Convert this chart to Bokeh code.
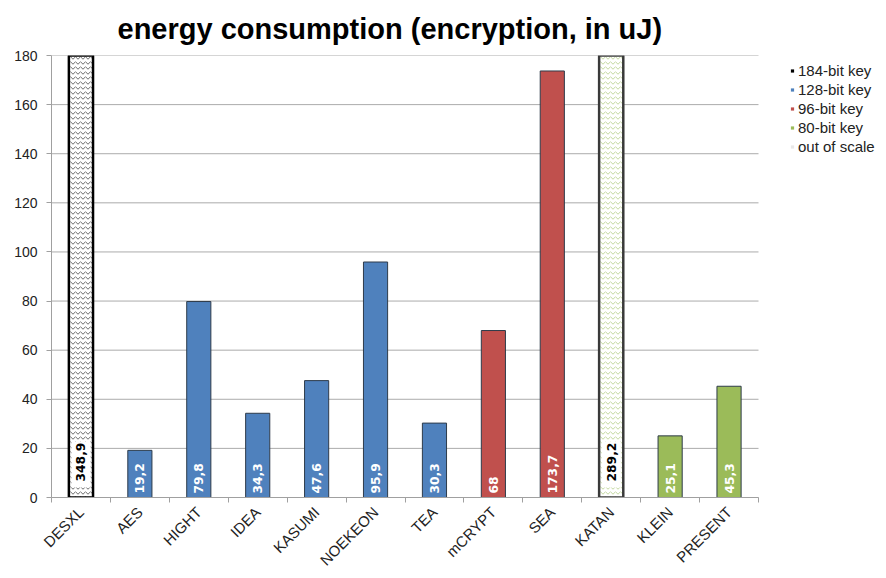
import math
import numpy as np
from bokeh.plotting import figure
from bokeh.models import (ColumnDataSource, Range1d, FixedTicker, Legend, LegendItem)
from bokeh.core.properties import value
from bokeh.embed import file_html
from bokeh.resources import INLINE

# --- data -------------------------------------------------------------
ciphers = ["DESXL", "AES", "HIGHT", "IDEA", "KASUMI", "NOEKEON",
           "TEA", "mCRYPT", "SEA", "KATAN", "KLEIN", "PRESENT"]
energy_uj = [348.9, 19.2, 79.8, 34.3, 47.6, 95.9, 30.3, 68, 173.7, 289.2, 25.1, 45.3]
key_bits = [184, 128, 128, 128, 128, 128, 128, 96, 96, 80, 80, 80]

y_ticks = [0, 20, 40, 60, 80, 100, 120, 140, 160, 180]
Y_MAX = 180

key_colors = {184: "#000000", 128: "#4f81bd", 96: "#c0504d", 80: "#9bbb59"}
key_names = {184: "184-bit key", 128: "128-bit key", 96: "96-bit key", 80: "80-bit key"}
hatch_colors = {184: "#6a6a6a", 80: "#c2d79e"}
edge_colors = {184: "#000000", 80: "#3a3a3a"}

# --- layout: the frame runs to the right edge, the legend sits in the
# strip beyond the last category; axis and grid stop at the bars
W, H = 886, 578
LEFT, TOP, BOTTOM = 51, 55, 81
BAR_AREA_W = 707
n = len(ciphers)
x_end = n * (W - LEFT) / BAR_AREA_W

# --- derived columns ----------------------------------------------------
xs = np.arange(n) + 0.5
labels = [f"{v:g}".replace(".", ",") for v in energy_uj]
in_scale = [v <= Y_MAX for v in energy_uj]

normal = ColumnDataSource(dict(
    x=[x for x, ok in zip(xs, in_scale) if ok],
    top=[v for v, ok in zip(energy_uj, in_scale) if ok],
    color=[key_colors[k] for k, ok in zip(key_bits, in_scale) if ok],
    label=[t for t, ok in zip(labels, in_scale) if ok],
))
over = ColumnDataSource(dict(
    x=[x for x, ok in zip(xs, in_scale) if not ok],
    top=[v for v, ok in zip(energy_uj, in_scale) if not ok],
    hatch=[hatch_colors[k] for k, ok in zip(key_bits, in_scale) if not ok],
    edge=[edge_colors[k] for k, ok in zip(key_bits, in_scale) if not ok],
    label=[t for t, ok in zip(labels, in_scale) if not ok],
))

# --- figure -------------------------------------------------------------
p = figure(width=W, height=H, output_backend="svg", toolbar_location=None,
           x_range=Range1d(0, x_end), y_range=Range1d(0, Y_MAX),
           min_border_left=LEFT, min_border_right=0,
           min_border_top=TOP, min_border_bottom=BOTTOM)
p.outline_line_color = None
p.background_fill_color = "white"
p.border_fill_color = "white"

p.title.text = "energy consumption (encryption, in uJ)"
p.title.text_font = "Liberation Sans"
p.title.text_font_size = "29px"
p.title.text_font_style = "bold"
p.title.text_color = "#000000"
p.title.align = "left"
p.title.offset = 66
p.title.vertical_align = "middle"
p.title.standoff = 20

# horizontal grid lines, limited to the category area
p.xgrid.visible = False
p.ygrid.visible = False
p.segment(x0=0, x1=n, y0=y_ticks, y1=y_ticks, line_color="#ababab", line_width=1)

# y axis
p.yaxis.ticker = FixedTicker(ticks=y_ticks)
p.yaxis.axis_line_color = "#a0a0a0"
p.yaxis.major_tick_line_color = "#a0a0a0"
p.yaxis.major_tick_in = 0
p.yaxis.major_tick_out = 5
p.yaxis.minor_tick_line_color = None
p.yaxis.major_label_text_font = "Liberation Sans"
p.yaxis.major_label_text_font_size = "14px"
p.yaxis.major_label_text_color = "#222222"
p.yaxis.major_label_standoff = 9

# x axis: names at bar centres, tick marks between categories
p.xaxis.bounds = (0, n)
p.xaxis.ticker = FixedTicker(ticks=list(xs), minor_ticks=list(range(n + 1)))
p.xaxis.major_label_overrides = {float(x): name for x, name in zip(xs, ciphers)}
p.xaxis.major_label_orientation = math.pi / 4
p.xaxis.major_tick_line_color = None
p.xaxis.minor_tick_line_color = "#a0a0a0"
p.xaxis.minor_tick_in = 0
p.xaxis.minor_tick_out = 5
p.xaxis.axis_line_color = "#a0a0a0"
p.xaxis.major_label_text_font = "Liberation Sans"
p.xaxis.major_label_text_font_size = "15px"
p.xaxis.major_label_text_color = "#222222"
p.xaxis.major_label_standoff = 6

BAR_W = 0.41

# bars within scale
p.vbar(x="x", top="top", bottom=0, width=BAR_W, source=normal,
       fill_color="color", line_color="#2e3b4a", line_width=1)

# bars beyond the axis maximum: hatched, heavy outline
p.vbar(x="x", top="top", bottom=0, width=BAR_W, source=over,
       fill_color="white", line_color="edge", line_width=2.5,
       hatch_pattern="horizontal_wave", hatch_color="hatch",
       hatch_scale=5, hatch_weight=1)

# value labels
p.text(x="x", y=0, text="label", source=normal, angle=math.pi / 2,
       text_align="left", text_baseline="middle", y_offset=-4,
       text_font=value("DejaVu Sans"), text_font_style="bold",
       text_font_size="12.3px", text_color="white")
p.text(x="x", y=0, text="label", source=over, angle=math.pi / 2,
       text_align="left", text_baseline="middle", y_offset=-10,
       text_font=value("DejaVu Sans"), text_font_style="bold",
       text_font_size="12.3px", text_color="black",
       background_fill_color="white",
       padding=dict(left=6, right=1, top=5, bottom=5))

# legend swatches (unplaced points, only their legend glyphs show)
items = []
swatches = [(key_names[k], key_colors[k]) for k in [184, 128, 96, 80]]
swatches.append(("out of scale", "#e8e8e8"))
for name, color in swatches:
    r = p.scatter(x=[np.nan], y=[np.nan], marker="square",
                  size=6, fill_color=color, line_color=None)
    items.append(LegendItem(label=name, renderers=[r]))

legend = Legend(items=items, location=(737, 341), padding=0, spacing=0,
                margin=0, glyph_width=8, glyph_height=19, label_height=19,
                label_standoff=2, border_line_color=None,
                background_fill_alpha=0,
                label_text_font="Liberation Sans", label_text_font_size="15px",
                label_text_color="#222222")
p.add_layout(legend, "center")

open("out.html", "w").write(file_html(p, INLINE))
